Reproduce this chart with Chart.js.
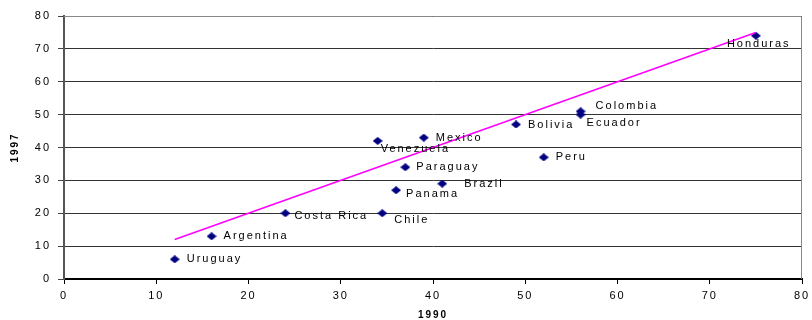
<!DOCTYPE html>
<html>
<head>
<meta charset="utf-8">
<script src="https://cdn.jsdelivr.net/npm/chart.js@4.4.1/dist/chart.umd.min.js"></script>
<style>
  html, body { margin: 0; padding: 0; background: #fff; }
  #wrap { width: 812px; height: 320px; }
</style>
</head>
<body>
<div id="wrap"><canvas id="c" width="812" height="320"></canvas></div>
<script>
// Country values: share in 1990 (x) against 1997 (y)
const countries = ['Honduras', 'Colombia', 'Ecuador', 'Bolivia', 'Mexico', 'Venezuela', 'Paraguay',
                   'Peru', 'Brazil', 'Panama', 'Chile', 'Costa Rica', 'Argentina', 'Uruguay'];
const values1990 = [75, 56, 56, 49, 39, 34, 37, 52, 41, 36, 34.5, 24, 16, 12];
const values1997 = [74, 51, 50, 47, 43, 42, 34, 37, 29, 27, 20, 20, 13, 6];

// Reference line (1997 = 1990) over the observed range
const trend1990 = [12, 75];
const trend1997 = [12, 75];

// Tick labels shared by both axes
const axisTicks = [0, 10, 20, 30, 40, 50, 60, 70, 80];

// Where each country name sits relative to its marker, in pixels [dx, dy]
const labelOffsets = [[-29, 8], [15, -5], [6, 8], [12, 0], [12, 0], [3, 8], [11, 0],
                      [12, 0], [22, 0], [10, 4], [12, 7], [9, 3], [12, 0], [12, 0]];

const FONT = "'Liberation Sans', Arial, sans-serif";

// Flattened navy diamond marker
const diamond = document.createElement('canvas');
diamond.width = 10; diamond.height = 8;
(function () {
  const g = diamond.getContext('2d');
  g.fillStyle = '#000080';
  g.beginPath();
  g.moveTo(5, 0); g.lineTo(10, 4); g.lineTo(5, 8); g.lineTo(0, 4);
  g.closePath(); g.fill();
})();

const spacing = {
  id: 'spacing',
  beforeLayout(chart) { chart.ctx.letterSpacing = '2px'; },
  beforeDraw(chart) { chart.ctx.letterSpacing = '2px'; }
};

const frame = {
  id: 'frame',
  beforeDatasetsDraw(chart) {
    const { ctx, chartArea: a } = chart;
    ctx.save();
    ctx.strokeStyle = '#888';
    ctx.lineWidth = 1;
    ctx.beginPath();
    ctx.moveTo(a.left, a.top + 0.5);
    ctx.lineTo(Math.round(a.right) - 0.5, a.top + 0.5);
    ctx.lineTo(Math.round(a.right) - 0.5, a.bottom);
    ctx.stroke();
    ctx.restore();
  }
};

const names = {
  id: 'names',
  afterDatasetsDraw(chart) {
    const { ctx } = chart;
    const meta = chart.getDatasetMeta(1);
    ctx.save();
    ctx.letterSpacing = '2px';
    ctx.font = '11px ' + FONT;
    ctx.fillStyle = '#000';
    ctx.textAlign = 'left';
    ctx.textBaseline = 'middle';
    meta.data.forEach((pt, i) => {
      const [dx, dy] = labelOffsets[i];
      ctx.fillText(countries[i], pt.x + dx, pt.y + dy);
    });
    ctx.restore();
  }
};

const setTicks = scale => { scale.ticks = axisTicks.map(v => ({ value: v })); };

new Chart(document.getElementById('c'), {
  type: 'scatter',
  data: {
    datasets: [
      {
        label: 'trend',
        data: trend1990.map((x, i) => ({ x, y: trend1997[i] })),
        showLine: true,
        borderColor: '#ff00ff',
        borderWidth: 1.5,
        pointRadius: 0,
        fill: false
      },
      {
        label: 'countries',
        data: values1990.map((x, i) => ({ x, y: values1997[i] })),
        pointStyle: diamond,
        pointRadius: 5,
        backgroundColor: '#000080',
        borderColor: '#000080'
      }
    ]
  },
  options: {
    responsive: false,
    animation: false,
    events: [],
    layout: { padding: { left: 0, top: 16, right: 10, bottom: 0 } },
    plugins: { legend: { display: false }, tooltip: { enabled: false } },
    scales: {
      x: {
        type: 'linear',
        min: axisTicks[0],
        max: axisTicks[axisTicks.length - 1],
        afterBuildTicks: setTicks,
        afterFit(scale) { scale.height = 41; scale.paddingLeft = 0; scale.paddingRight = 0; },
        grid: { drawOnChartArea: false, drawTicks: true, tickLength: 5, tickColor: '#000', tickWidth: 1 },
        border: { color: '#000', width: 2 },
        ticks: { color: '#000', font: { family: FONT, size: 11 }, padding: 5, maxRotation: 0 },
        title: { display: true, text: '1990', color: '#000',
                 font: { family: FONT, size: 10, weight: 'bold', lineHeight: 1 },
                 padding: { top: 0, bottom: 0 } }
      },
      y: {
        type: 'linear',
        min: axisTicks[0],
        max: axisTicks[axisTicks.length - 1],
        afterBuildTicks: setTicks,
        afterFit(scale) { scale.width = 64; scale.paddingTop = 0; scale.paddingBottom = 0; },
        grid: { color: '#333', lineWidth: 1, drawTicks: true, tickLength: 6, tickColor: '#444' },
        border: { color: '#555', width: 2 },
        ticks: { color: '#000', font: { family: FONT, size: 11 }, padding: 7 },
        title: { display: true, text: '1997', color: '#000',
                 font: { family: FONT, size: 10, weight: 'bold', lineHeight: 1 },
                 padding: { top: 10, bottom: 0 } }
      }
    }
  },
  plugins: [spacing, frame, names]
});
</script>
</body>
</html>
